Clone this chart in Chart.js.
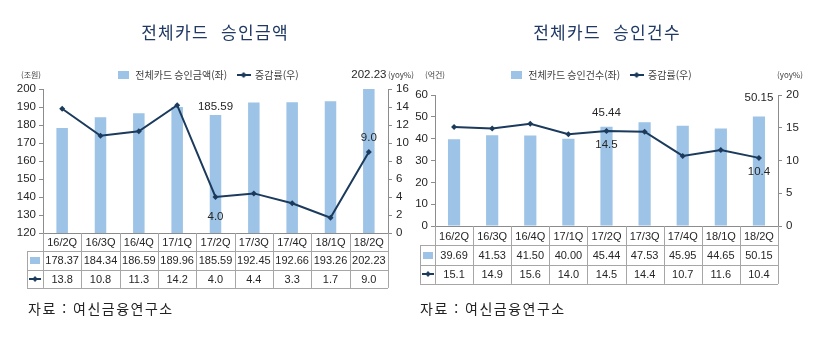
<!DOCTYPE html>
<html lang="ko">
<head>
<meta charset="utf-8">
<script src="https://cdn.jsdelivr.net/npm/chart.js@4.4.0/dist/chart.umd.min.js"></script>
<style>
  body { margin: 0; background: #fff; width: 816px; height: 340px; position: relative; overflow: hidden;
         font-family: 'Noto Sans CJK KR', sans-serif; }
  .panel { position: absolute; top: 0; height: 340px; }
  .title { position: absolute; top: 22px; font-size: 17px; line-height: 20px; letter-spacing: 1.3px;
           color: #1f3864; white-space: pre; transform: translateX(-50%); }
  .unit { position: absolute; top: 70px; font-size: 8px; line-height: 10px; color: #404040;
          transform: translateX(-50%); white-space: nowrap; }
  .source { position: absolute; top: 298px; font-size: 14px; line-height: 20px; color: #222;
            letter-spacing: 1.5px; white-space: pre; }
</style>
</head>
<body>
<div class="panel" style="left:0;width:410px"><canvas id="amountChart" width="410" height="340"></canvas></div>
<div class="panel" style="left:410px;width:406px"><canvas id="countChart" width="406" height="340"></canvas></div>

<div class="title" style="left:215px">전체카드  승인금액</div>
<div class="title" style="left:607px">전체카드  승인건수</div>
<div class="unit" style="left:31px">(조원)</div>
<div class="unit" style="left:401px">(yoy%)</div>
<div class="unit" style="left:435px">(억건)</div>
<div class="unit" style="left:790px">(yoy%)</div>
<div class="source" style="left:28px">자료 : 여신금융연구소</div>
<div class="source" style="left:420px">자료 : 여신금융연구소</div>

<script>
const quarters = ['16/2Q', '16/3Q', '16/4Q', '17/1Q', '17/2Q', '17/3Q', '17/4Q', '18/1Q', '18/2Q'];

// 승인금액 (조원) / 증감률 (yoy%)
const amountValues = [178.37, 184.34, 186.59, 189.96, 185.59, 192.45, 192.66, 193.26, 202.23];
const amountYoy = [13.8, 10.8, 11.3, 14.2, 4.0, 4.4, 3.3, 1.7, 9.0];

// 승인건수 (억건) / 증감률 (yoy%)
const countValues = [39.69, 41.53, 41.50, 40.00, 45.44, 47.53, 45.95, 44.65, 50.15];
const countYoy = [15.1, 14.9, 15.6, 14.0, 14.5, 14.4, 10.7, 11.6, 10.4];

const amountLeftTicks = { min: 120, max: 200, step: 10 };
const amountRightTicks = { min: 0, max: 16, step: 2 };
const countLeftTicks = { min: 0, max: 60, step: 10 };
const countRightTicks = { min: 0, max: 20, step: 5 };

const BAR = '#9dc3e6';
const LINE = '#1b3a5c';
const GRID = '#8c8c8c';
const TEXT = '#262626';
const NUM_FONT = "'Liberation Sans', Arial, sans-serif";
const KR_FONT = "'Noto Sans CJK KR', sans-serif";

function makeIcon(w, h, draw) {
  const c = document.createElement('canvas');
  c.width = w; c.height = h;
  draw(c.getContext('2d'), w, h);
  return c;
}
const barIcon = makeIcon(11, 8, (g, w, h) => { g.fillStyle = BAR; g.fillRect(0, 0, w, h); });
const lineIcon = makeIcon(14, 8, (g, w, h) => {
  g.strokeStyle = LINE; g.lineWidth = 2;
  g.beginPath(); g.moveTo(0, h / 2); g.lineTo(w, h / 2); g.stroke();
  g.fillStyle = LINE;
  g.beginPath(); g.moveTo(w / 2, h / 2 - 3); g.lineTo(w / 2 + 3, h / 2); g.lineTo(w / 2, h / 2 + 3); g.lineTo(w / 2 - 3, h / 2); g.closePath(); g.fill();
});

// moves the legend box without touching the plot area
const legendNudge = {
  id: 'legendNudge',
  afterLayout(chart, args, opts) {
    const lg = chart.legend;
    if (!lg) return;
    lg.left += opts.dx; lg.right += opts.dx;
    lg.top += opts.dy; lg.bottom += opts.dy;
  }
};

// value table under the plot, columns follow the category scale
const dataTable = {
  id: 'dataTable',
  afterDraw(chart, args, opts) {
    const { ctx, chartArea } = chart;
    const x = chart.scales.x;
    const labels = chart.data.labels;
    const n = labels.length;
    const half = (chartArea.right - chartArea.left) / n / 2;
    const top = chartArea.bottom;
    const rh = opts.rowHeight;
    const keyLeft = chartArea.left - opts.keyWidth;
    const px = v => Math.round(v) + 0.5;

    ctx.save();
    ctx.strokeStyle = '#a6a6a6';
    ctx.lineWidth = 1;
    ctx.beginPath();
    for (let r = 1; r <= 3; r++) {
      ctx.moveTo(keyLeft, px(top + r * rh));
      ctx.lineTo(chartArea.right, px(top + r * rh));
    }
    ctx.moveTo(px(keyLeft), top + rh);
    ctx.lineTo(px(keyLeft), top + 3 * rh);
    for (let i = 0; i <= n; i++) {
      const edge = i < n ? px(x.getPixelForValue(i) - half) : px(x.getPixelForValue(n - 1) + half);
      ctx.moveTo(edge, top);
      ctx.lineTo(edge, top + 3 * rh);
    }
    ctx.stroke();

    ctx.fillStyle = TEXT;
    ctx.font = '11px ' + NUM_FONT;
    ctx.textAlign = 'center';
    ctx.textBaseline = 'middle';
    const bars = chart.data.datasets[0].data;
    const rates = chart.data.datasets[1].data;
    labels.forEach((lab, i) => {
      const cx = x.getPixelForValue(i);
      ctx.fillText(lab, cx, top + 0.5 * rh + 1);
      ctx.fillText(bars[i].toFixed(2), cx, top + 1.5 * rh + 1);
      ctx.fillText(rates[i].toFixed(1), cx, top + 2.5 * rh + 1);
    });
    const kx = keyLeft + opts.keyWidth / 2;
    ctx.drawImage(barIcon, Math.round(kx - 5), Math.round(top + 1.5 * rh - 3), 10, 7);
    ctx.drawImage(lineIcon, Math.round(kx - 6), Math.round(top + 2.5 * rh - 4), 12, 8);
    ctx.restore();
  }
};

// selected point/bar value labels
const markLabels = {
  id: 'markLabels',
  afterDatasetsDraw(chart, args, opts) {
    const { ctx } = chart;
    ctx.save();
    ctx.fillStyle = TEXT;
    ctx.font = '11.5px ' + NUM_FONT;
    ctx.textAlign = 'center';
    ctx.textBaseline = 'middle';
    opts.items.forEach(it => {
      const el = chart.getDatasetMeta(it.dataset).data[it.index];
      const v = chart.data.datasets[it.dataset].data[it.index];
      ctx.fillText(v.toFixed(it.digits), el.x, el.y + it.dy);
    });
    ctx.restore();
  }
};

function buildChart(id, cfg) {
  return new Chart(document.getElementById(id), {
    type: 'bar',
    data: {
      labels: quarters,
      datasets: [
        { type: 'bar', label: cfg.barLabel, data: cfg.bars, yAxisID: 'y', backgroundColor: BAR,
          barPercentage: cfg.barPct, categoryPercentage: 1, order: 1 },
        { type: 'line', label: '증감률(우)', data: cfg.rates, yAxisID: 'y1', borderColor: LINE,
          backgroundColor: LINE, borderWidth: 2, pointStyle: 'rectRot', pointRadius: 3,
          pointBackgroundColor: LINE, pointBorderWidth: 0, tension: 0, order: 0 }
      ]
    },
    options: {
      responsive: false,
      animation: false,
      devicePixelRatio: 1,
      layout: { padding: cfg.padding },
      plugins: {
        tooltip: { enabled: false },
        legend: {
          position: 'top',
          labels: {
            usePointStyle: true,
            pointStyleWidth: 13,
            padding: 10,
            color: '#404040',
            font: { family: KR_FONT, size: 10 },
            generateLabels: () => [
              { text: cfg.barLabel, pointStyle: barIcon, datasetIndex: 0, hidden: false, lineWidth: 0, fontColor: '#404040' },
              { text: '증감률(우)', pointStyle: lineIcon, datasetIndex: 1, hidden: false, lineWidth: 0, fontColor: '#404040' }
            ]
          }
        },
        legendNudge: cfg.legendNudge,
        dataTable: { rowHeight: cfg.rowHeight, keyWidth: cfg.keyWidth },
        markLabels: { items: cfg.marks }
      },
      scales: {
        x: {
          offset: true,
          grid: { display: false, drawTicks: false },
          ticks: { display: false },
          border: { display: true, color: GRID }
        },
        y: {
          position: 'left',
          min: cfg.left.min, max: cfg.left.max,
          ticks: { stepSize: cfg.left.step, padding: 3, color: TEXT, font: { family: NUM_FONT, size: 11.5 } },
          grid: { drawOnChartArea: false, drawTicks: true, tickLength: 4, color: GRID },
          border: { color: GRID },
          afterFit: s => { s.width = cfg.leftWidth; }
        },
        y1: {
          position: 'right',
          min: cfg.right.min, max: cfg.right.max,
          ticks: { stepSize: cfg.right.step, padding: 4, color: TEXT, font: { family: NUM_FONT, size: 11.5 } },
          grid: { drawOnChartArea: false, drawTicks: true, tickLength: 4, color: GRID },
          border: { color: GRID },
          afterFit: s => { s.width = cfg.rightWidth; }
        }
      }
    },
    plugins: [legendNudge, dataTable, markLabels]
  });
}

buildChart('amountChart', {
  barLabel: '전체카드 승인금액(좌)',
  bars: amountValues,
  rates: amountYoy,
  left: amountLeftTicks,
  right: amountRightTicks,
  padding: { top: 59, bottom: 107, left: 0, right: 0 },
  leftWidth: 43,
  rightWidth: 22,
  legendNudge: { dx: 3, dy: 1 },
  barPct: 0.3,
  rowHeight: 18.3,
  keyWidth: 16,
  marks: [
    { dataset: 0, index: 4, digits: 2, dy: -8 },
    { dataset: 0, index: 8, digits: 2, dy: -10 },
    { dataset: 1, index: 4, digits: 1, dy: 20 },
    { dataset: 1, index: 8, digits: 1, dy: -14 }
  ]
});

buildChart('countChart', {
  barLabel: '전체카드 승인건수(좌)',
  bars: countValues,
  rates: countYoy,
  left: countLeftTicks,
  right: countRightTicks,
  padding: { top: 65, bottom: 114, left: 0, right: 0 },
  leftWidth: 25,
  rightWidth: 38,
  legendNudge: { dx: -12, dy: -5 },
  barPct: 0.32,
  rowHeight: 19.3,
  keyWidth: 15,
  marks: [
    { dataset: 0, index: 4, digits: 2, dy: -14 },
    { dataset: 0, index: 8, digits: 2, dy: -19 },
    { dataset: 1, index: 4, digits: 1, dy: 14 },
    { dataset: 1, index: 8, digits: 1, dy: 14 }
  ]
});
</script>
</body>
</html>
